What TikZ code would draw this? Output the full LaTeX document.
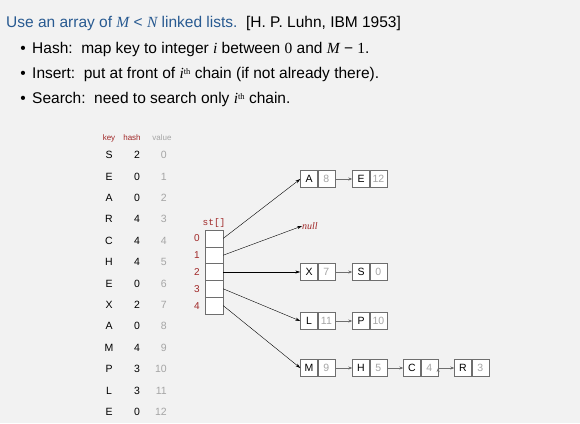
\documentclass[tikz,border=0pt]{standalone}
\usepackage{fontspec}
\setmainfont{Liberation Sans}
\setmonofont{Liberation Mono}
\newfontfamily\mathserif{Liberation Serif}
\usetikzlibrary{arrows.meta}
\definecolor{bgcol}{RGB}{242,242,242}
\definecolor{titleblue}{RGB}{40,90,145}
\definecolor{darkred}{RGB}{160,40,40}
\definecolor{valgray}{RGB}{165,165,165}
\definecolor{boxgray}{RGB}{110,110,110}
\newcommand{\mi}[1]{{\mathserif\itshape #1}}
\newcommand{\ith}{\mi{i}\raisebox{0.45ex}{\mathserif\fontsize{8.5}{9}\selectfont th}}

\begin{document}
\begin{tikzpicture}[x=1pt,y=-1pt,
  line/.style={anchor=base west,inner sep=0pt,font=\fontsize{15.5}{18}\selectfont},
  head/.style={font=\fontsize{8}{9}\selectfont,text=darkred,inner sep=0pt},
  keytxt/.style={font=\fontsize{10.5}{12}\selectfont,inner sep=0pt},
  valtxt/.style={keytxt,text=valgray},
  cell/.style={draw=boxgray,fill=white,minimum width=18pt,minimum height=16.8pt,inner sep=0pt},
  idx/.style={font=\fontsize{10}{12}\selectfont,text=darkred,inner sep=0pt},
  kbox/.style={draw=boxgray,fill=white,minimum width=17pt,minimum height=17pt,inner sep=0pt,font=\fontsize{10.5}{12}\selectfont},
  vbox/.style={kbox,text=valgray},
  ptr/.style={-{Stealth[length=5pt,width=3pt]},thin},
  link/.style={-{Stealth[length=4pt,width=3pt]},draw=boxgray,line width=0.9pt}]
\fill[bgcol] (0,0) rectangle (580,423);

% text
\node (title)[line,text=titleblue] at (6,27) {Use an array of \mi{M} < \mi{N} linked lists.\ \ \textcolor{black}{[H. P. Luhn, IBM 1953]}};
\node (b1)[line] at (32,53) {Hash:\ \ map key to integer \mi{i} between {\mathserif 0} and \mi{M} − {\mathserif 1}.};
\node (b2)[line] at (32,78) {Insert:\ \ put at front of \ith{} chain (if not already there).};
\node (b3)[line] at (32,103) {Search:\ \ need to search only \ith{} chain.};
\foreach \b in {b1,b2,b3}
  \node[line,anchor=base east] at ([xshift=-6pt]\b.base west) {•};

% table of keys
\node (hk)[head] at (109,138) {key};
\node (hh)[head] at (132,138) {hash};
\node (hv)[head,text=valgray] at (162,138) {value};
\foreach \k/\h/\v [count=\r from 0] in {S/2/0,E/0/1,A/0/2,R/4/3,C/4/4,H/4/5,E/0/6,X/2/7,A/0/8,M/4/9,P/3/10,L/3/11,E/0/12}
{
  \node (k\r)[keytxt] at (109,155+21.4*\r) {\k};
  \node (h\r)[keytxt] at (137,155+21.4*\r) {\h};
  \node (v\r)[valtxt,anchor=east] at (167,155+21.4*\r) {\v};
}

% array st[]
\node (st)[idx,font=\ttfamily\fontsize{9.5}{11}\selectfont] at (214,223) {st[]};
\foreach \i in {0,...,4}
{
  \node (st\i)[cell] at (214,238.4+16.8*\i) {};
  \node[idx] at (197,238.4+16.8*\i) {\i};
}

% chains
\node (A)[kbox] at (309,179) {A};  \node (A8)[vbox,anchor=west] at (A.east) {8};
\node (E)[kbox] at (361,179) {E};  \node (E12)[vbox,anchor=west] at (E.east) {12};
\node (null)[anchor=west,inner sep=0pt,text=darkred,font=\mathserif\itshape\fontsize{10}{11}\selectfont] at (302,226) {null};
\node (X)[kbox] at (309,272) {X};  \node (X7)[vbox,anchor=west] at (X.east) {7};
\node (S)[kbox] at (361,272) {S};  \node (S0)[vbox,anchor=west] at (S.east) {0};
\node (L)[kbox] at (309,321) {L};  \node (L11)[vbox,anchor=west] at (L.east) {11};
\node (P)[kbox] at (361,321) {P};  \node (P10)[vbox,anchor=west] at (P.east) {10};
\node (M)[kbox] at (309,368) {M};  \node (M9)[vbox,anchor=west] at (M.east) {9};
\node (H)[kbox] at (361,368) {H};  \node (H5)[vbox,anchor=west] at (H.east) {5};
\node (C)[kbox] at (412,368) {C};  \node (C4)[vbox,anchor=west] at (C.east) {4};
\node (R)[kbox] at (463,368) {R};  \node (R3)[vbox,anchor=west] at (R.east) {3};

\path[ptr] (st0.east) edge (A.west)
           (st1.east) edge (null.west)
           (st2.east) edge (X.west)
           (st3.east) edge (L.west)
           (st4.east) edge (M.west);
\path[link] (A8.east) edge (E.west)
            (X7.east) edge (S.west)
            (L11.east) edge (P.west)
            (M9.east) edge (H.west)
            (H5.east) edge (C.west)
            (C4.east) edge (R.west);
\end{tikzpicture}
\end{document}
